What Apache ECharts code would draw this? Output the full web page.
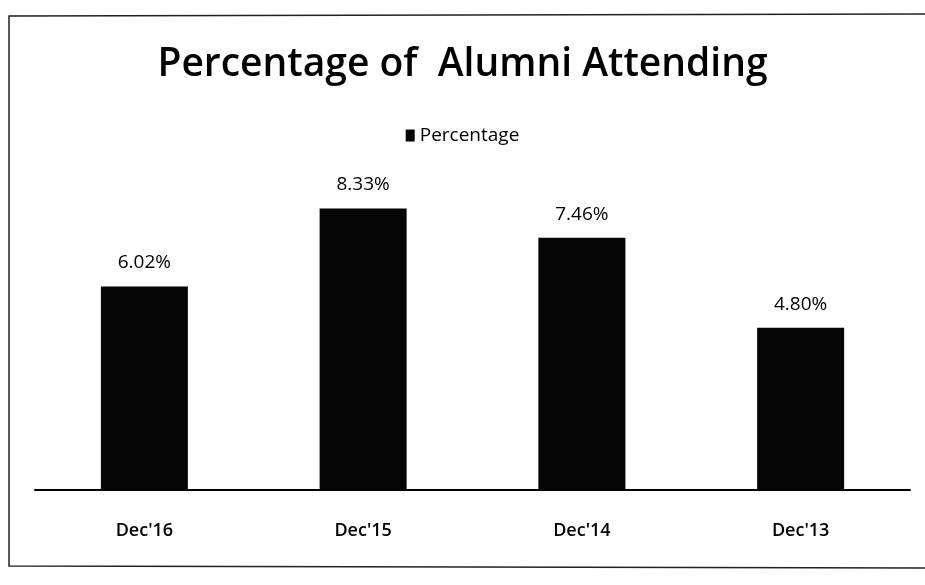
<!DOCTYPE html>
<html><head><meta charset="utf-8">
<script src="https://cdn.jsdelivr.net/npm/echarts@6/dist/echarts.min.js"></script>
<style>html,body{margin:0;padding:0;background:#fff}#c{width:925px;height:585px}</style>
</head><body><div id="c"></div>
<script>
const categories = ["Dec'16", "Dec'15", "Dec'14", "Dec'13"];
const percentages = [6.02, 8.33, 7.46, 4.80];
const seriesName = 'Percentage';

const chart = echarts.init(document.getElementById('c'));
chart.setOption({
  animation: false,
  backgroundColor: '#fff',
  title: {
    text: 'Percentage of  Alumni Attending',
    left: 'center', top: 40,
    textStyle: { fontFamily: 'Open Sans', fontWeight: 600, fontSize: 39, color: '#000' }
  },
  legend: {
    data: [seriesName], top: 121, left: 'center',
    icon: 'rect', itemWidth: 9, itemHeight: 12, itemGap: 4,
    textStyle: { fontFamily: 'Open Sans', fontSize: 19, color: '#000' }
  },
  graphic: [{
    type: 'polyline', silent: true,
    shape: { points: [[935, 14], [9, 16], [9, 566], [935, 568]] },
    style: { stroke: '#222', lineWidth: 1.5, fill: null }
  }],
  grid: { left: 35, right: 15, top: 152, bottom: 95 },
  xAxis: {
    type: 'category', data: categories,
    axisLine: { lineStyle: { color: '#000', width: 2 } },
    axisTick: { show: false },
    axisLabel: { margin: 32, fontFamily: 'Open Sans', fontWeight: 600, fontSize: 18, color: '#000' }
  },
  yAxis: { type: 'value', min: 0, max: 10, show: false, splitLine: { show: false } },
  series: [{
    name: seriesName, type: 'bar', data: percentages, barWidth: 87,
    itemStyle: { color: '#050505' },
    label: {
      show: true, position: 'top', distance: 14,
      formatter: p => p.value.toFixed(2) + '%',
      fontFamily: 'Open Sans', fontSize: 19, color: '#000'
    }
  }]
});
</script></body></html>
